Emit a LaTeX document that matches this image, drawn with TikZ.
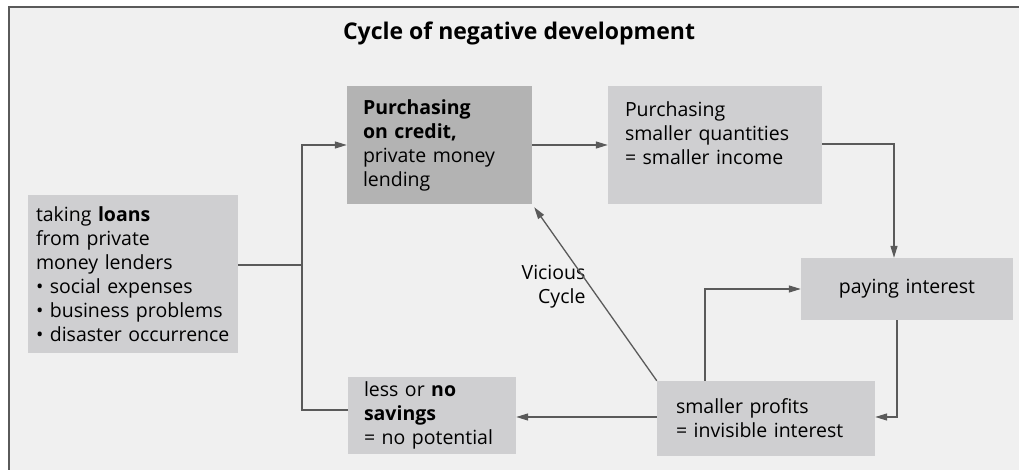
\documentclass[tikz,border=0pt]{standalone}
\usepackage{fontspec}
\setmainfont{Open Sans}
\usetikzlibrary{arrows.meta}

\definecolor{pagegray}{HTML}{F0F0F0}
\definecolor{boxgray}{HTML}{CFCFD1}
\definecolor{darkgray}{HTML}{B3B3B3}
\definecolor{linegray}{HTML}{5A5A5A}

\tikzset{
	box/.style={fill=boxgray, align=left, inner ysep=0pt, font=\fontsize{19.5}{24}\selectfont},
	line/.style={draw=linegray, line width=1.3pt},
	arrow/.style={line, -{Triangle[length=12pt,width=7pt]}}
}

\begin{document}
\begin{tikzpicture}[x=1pt,y=1pt]
	
	\useasboundingbox (0,0) rectangle (1019,470);
	\fill[white] (0,0) rectangle (1019,470);
	\draw[fill=pagegray, draw=linegray, line width=1.2pt] (9,-10) rectangle (1030,463);
	
	\node[font=\bfseries\fontsize{23}{26}\selectfont] (title) at (519,437) {Cycle of negative development};
	
	\node[box, inner xsep=8pt, text width=194pt, minimum height=158pt] (loans) at (133,196)
		{taking \textbf{loans}\\ from private\\ money lenders\\ \textbullet\ social expenses\\ \textbullet\ business problems\\ \textbullet\ disaster occurrence};
	\node[box, fill=darkgray, inner xsep=16pt, text width=153pt, minimum height=118pt] (credit) at (439.5,325)
		{\textbf{Purchasing}\\ \textbf{on credit,}\\ private money\\ lending};
	\node[box, inner xsep=17pt, text width=180pt, minimum height=118pt] (quantities) at (715,325)
		{Purchasing\\ smaller quantities\\ = smaller income\\ ~};
	\node[box, align=center, text width=212pt, inner xsep=0pt, minimum height=62pt] (interest) at (907,181)
		{paying interest};
	\node[box, inner xsep=19pt, text width=180pt, minimum height=75pt] (profits) at (766,51.5)
		{smaller profits\\ = invisible interest};
	\node[box, inner xsep=16pt, text width=136pt, minimum height=77pt] (savings) at (432,54.5)
		{less or \textbf{no}\\ \textbf{savings}\\ = no potential};
	
	\node[align=right, anchor=east, font=\fontsize{19.5}{24}\selectfont] (vicious) at (589,183) {Vicious\\ Cycle};
	
	\coordinate (fork) at (302,205);
	\draw[line] ([yshift=9pt]loans.east) -- (fork);
	\draw[arrow] (fork) |- (credit.west);
	\draw[line] (fork) |- ([yshift=5.5pt]savings.west);
	
	\draw[arrow] (credit.east) -- (quantities.west);
	\draw[arrow] ([yshift=1pt]quantities.east) -| ([xshift=-13pt]interest.north);
	\draw[arrow] ([xshift=-10pt]interest.south) |- ([yshift=1.5pt]profits.east);
	\draw[arrow] ([xshift=-61pt]profits.north) |- (interest.west);
	\draw[arrow] ([yshift=1.5pt]profits.west) -- ([yshift=1.5pt]profits.west -| savings.east);
	\draw[arrow] (profits.north west) -- ([xshift=2pt,yshift=-3pt]credit.south east);
	
\end{tikzpicture}
\end{document}
